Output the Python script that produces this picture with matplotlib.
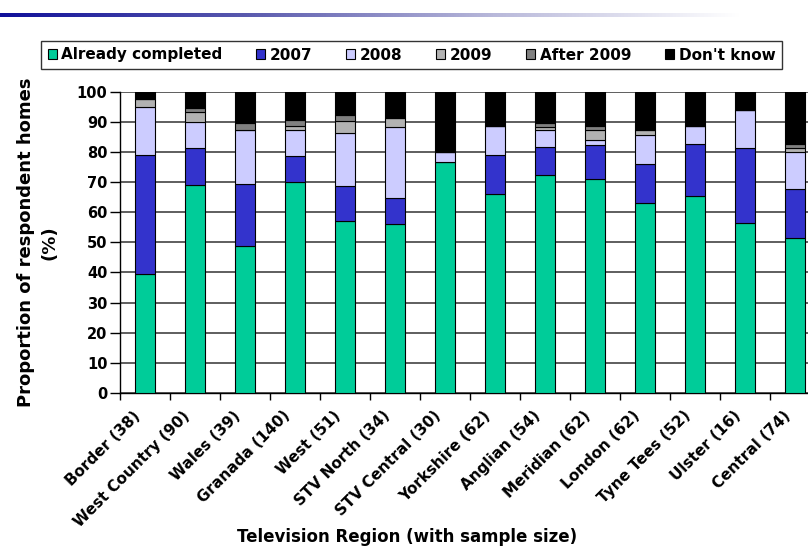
import numpy as np
import matplotlib
matplotlib.use("Agg")
import matplotlib.pyplot as plt
from matplotlib.patches import Patch
from matplotlib.colors import LinearSegmentedColormap
import matplotlib.transforms as mtransforms

plt.rcParams['font.family'] = ['DejaVu Sans']
plt.rcParams['font.weight'] = 'bold'
plt.rcParams['axes.labelweight'] = 'bold'

regions = ["Border (38)", "West Country (90)", "Wales (39)", "Granada (140)",
           "West (51)", "STV North (34)", "STV Central (30)", "Yorkshire (62)",
           "Anglian (54)", "Meridian (62)", "London (62)", "Tyne Tees (52)",
           "Ulster (16)", "Central (74)"]

already_completed = [39.5, 68.9, 48.7, 70.0, 56.9, 55.9, 76.7, 66.1, 72.2, 71.0, 62.9, 65.4, 56.3, 51.4]
y2007             = [39.5, 12.2, 20.5,  8.6, 11.8,  8.8,  0.0, 12.9,  9.3, 11.3, 12.9, 17.3, 25.0, 16.2]
y2008             = [15.8,  8.9, 17.9,  8.6, 17.6, 23.5,  3.3,  9.7,  5.6,  1.6,  9.7,  5.8, 12.5, 12.2]
y2009             = [ 2.6,  3.3,  0.0,  1.4,  3.9,  2.9,  0.0,  0.0,  1.2,  3.2,  1.6,  0.0,  0.0,  1.4]
after_2009        = [ 0.0,  1.1,  2.6,  2.1,  2.0,  0.0,  0.0,  0.0,  1.1,  1.6,  0.0,  0.0,  0.0,  1.4]
dont_know         = [ 2.6,  5.6, 10.3,  9.3,  7.8,  8.8, 20.0, 11.3, 10.6, 11.3, 12.9, 11.5,  6.2, 17.6]

series_names = ["Already completed", "2007", "2008", "2009", "After 2009", "Don't know"]
series_vals = [already_completed, y2007, y2008, y2009, after_2009, dont_know]
colors = ["#00CC99", "#3333CC", "#CCCCFF", "#B2B2B2", "#808080", "#000000"]

W, H = 808, 551
fig = plt.figure(figsize=(W / 100, H / 100), dpi=100)

# header gradient strip
hdr = fig.add_axes([0, 1 - 17.5 / H, 740 / W, 5 / H])
cmap = LinearSegmentedColormap.from_list("hdr", ["#10109a", "#5a5aae", "#b8b8da", "#ffffff"])
hdr.imshow(np.linspace(0, 1, 256)[None, :], aspect="auto", cmap=cmap)
hdr.set_axis_off()

# plot area (extends slightly past the right edge of the figure)
left, right, bottom, top = 120, 820, 393, 91.5
ax = fig.add_axes([left / W, 1 - bottom / H, (right - left) / W, (bottom - top) / H])

x = np.arange(len(regions))
base = np.zeros(len(regions))
for name, vals, c in zip(series_names, series_vals, colors):
    vals = np.array(vals)
    ax.bar(x, vals, 0.4, bottom=base, color=c, edgecolor="black", linewidth=0.8,
           label=name, zorder=3)
    base += vals

ax.set_xlim(-0.5, len(regions) - 0.5)
ax.set_ylim(0, 100)
ax.set_yticks(np.arange(0, 101, 10))
ax.yaxis.grid(True, color="#333333", linewidth=1.1, zorder=0)
ax.set_axisbelow(True)
for s in ["top", "right"]:
    ax.spines[s].set_visible(False)
ax.spines["left"].set_linewidth(1.0)
ax.spines["bottom"].set_linewidth(1.0)

ax.tick_params(axis="y", length=7, width=1, labelsize=10.5, pad=2)
ax.set_xticks(x)
ax.set_xticks(np.arange(-0.5, len(regions), 1.0), minor=True)
ax.tick_params(axis="x", which="major", length=0, pad=4)
ax.tick_params(axis="x", which="minor", length=5, width=1)
ax.set_xticklabels(regions, rotation=45, ha="right", va="center",
                   rotation_mode="anchor", fontsize=11)
offset = mtransforms.ScaledTranslation(-7 / 100, -15 / 100, fig.dpi_scale_trans)
for lab in ax.get_xticklabels():
    lab.set_transform(lab.get_transform() + offset)

ax.set_ylabel("Proportion of respondent homes\n(%)", fontsize=13, linespacing=1.35)
ax.yaxis.set_label_coords((58 - left) / (right - left), 0.5)
fig.text(407 / W, 1 - 537 / H, "Television Region (with sample size)",
         ha="center", va="center", fontsize=12)

handles = [Patch(facecolor=c, edgecolor="black", linewidth=0.8) for c in colors]
leg = fig.legend(handles, series_names, loc="center", ncol=6,
                 bbox_to_anchor=((36 + 787) / 2 / W, 1 - 55 / H),
                 fontsize=11, frameon=True, fancybox=False, handlelength=0.6,
                 handleheight=0.6, handletextpad=0.3, columnspacing=2.2,
                 borderpad=0.4)
leg.get_frame().set_edgecolor("black")
leg.get_frame().set_linewidth(1.0)

fig.savefig("out.png", dpi=100)
